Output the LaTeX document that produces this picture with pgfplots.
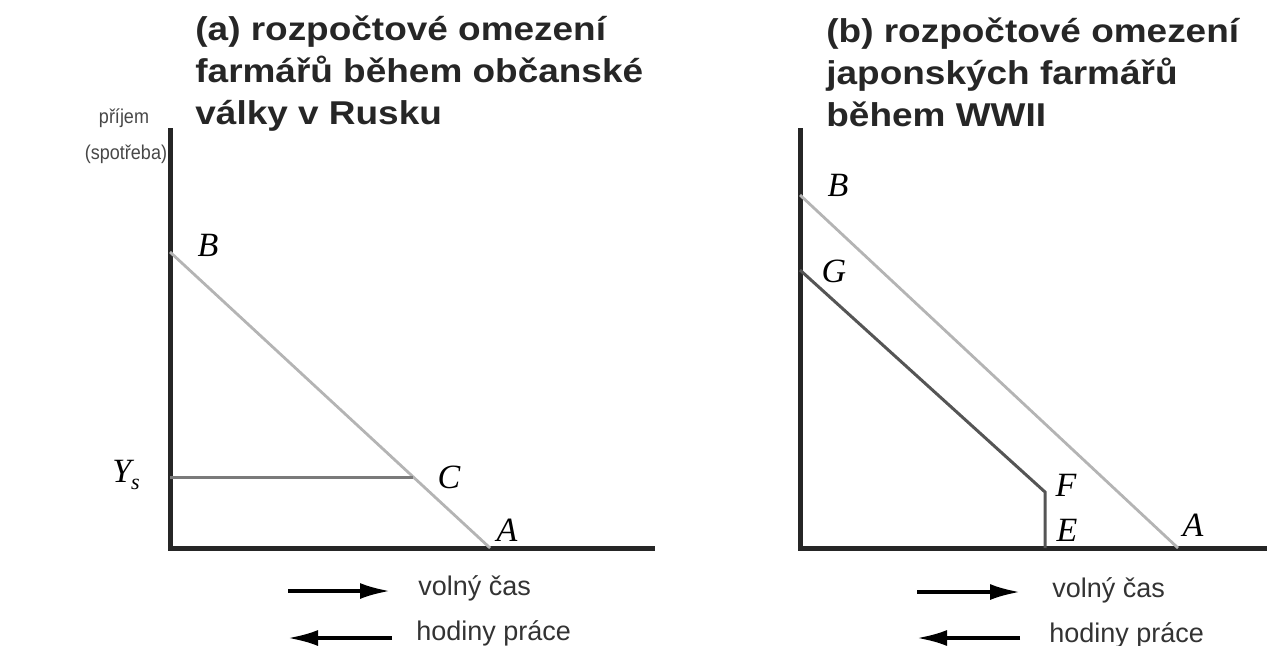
\documentclass[border=0pt]{standalone}
\usepackage{fontspec}
\usepackage{pgfplots}
\pgfplotsset{compat=1.18}
\usetikzlibrary{arrows.meta}
\setmainfont{Liberation Sans}
\newfontfamily\titlefont[FakeStretch=1.12]{Liberation Sans}
\newfontfamily\narrowfont[FakeStretch=0.9]{Liberation Sans}
\newfontfamily\lblfont{Liberation Serif}
\definecolor{axisc}{HTML}{262626}
\definecolor{lightl}{HTML}{B4B4B4}
\definecolor{midl}{HTML}{7A7A7A}
\definecolor{darkl}{HTML}{555555}
\definecolor{textc}{HTML}{333333}
\begin{document}
\begin{tikzpicture}[x=0.5pt,y=0.5pt]
\useasboundingbox (0,0) rectangle (1267,645);
\pgfplotsset{panel/.style={
  scale only axis, axis lines=none, clip=false, anchor=south west,
  xmin=0, ymin=0, ymax=42, height=210pt}}
\tikzset{lbl/.style={inner sep=0pt, font=\lblfont\itshape\fontsize{17}{17}\selectfont},
  ttl/.style={anchor=base west, inner sep=0pt, align=left, text=black!85,
  font=\titlefont\bfseries\fontsize{16.5}{21}\selectfont},
  leg/.style={anchor=west, inner sep=0pt, text=textc, font=\fontsize{13.5}{14}\selectfont},
  arr/.style={line width=1.7pt, -{Latex[length=15pt,width=8pt]}}}

% panel (a)
\begin{axis}[panel, at={(85pt,48.5pt)}, width=242.5pt, xmax=48.5]
  \draw[axisc, line width=2.5pt] (axis cs:0,42) -- (axis cs:0,0) -- (axis cs:48.5,0);
  \addplot[lightl, line width=1.4pt] coordinates {(0,29.6) (32,0)};
  \addplot[midl, line width=1.5pt] coordinates {(0,7.1) (24.3,7.1)};
\end{axis}

% panel (b)
\begin{axis}[panel, at={(400pt,48.5pt)}, width=233.5pt, xmax=46.7]
  \draw[axisc, line width=2.5pt] (axis cs:0,42) -- (axis cs:0,0) -- (axis cs:46.7,0);
  \addplot[lightl, line width=1.4pt] coordinates {(0,35.3) (37.8,0)};
  \addplot[darkl, line width=1.5pt] coordinates {(0,27.8) (24.5,5.6) (24.5,0)};
\end{axis}

% titles (anchored at the baseline of the last line)
\node[ttl] at (195,521) {(a) rozpočtové omezení\\farmářů během občanské\\války v Rusku};
\node[ttl] at (826,519) {(b) rozpočtové omezení\\japonských farmářů\\během WWII};

% vertical axis label
\node[inner sep=0pt, text=black!72, font=\narrowfont\fontsize{10}{10}\selectfont] at (124,527) {příjem};
\node[inner sep=0pt, text=black!72, font=\narrowfont\fontsize{10}{10}\selectfont] at (126,491) {(spotřeba)};

% point labels
\node[lbl] at (208,400) {B};
\node[lbl] at (449,168) {C};
\node[lbl] at (507,115) {A};
\node[lbl] at (126,170) {Y\raisebox{-0.45ex}{\fontsize{11}{11}\selectfont s}};
\node[lbl] at (838,460) {B};
\node[lbl] at (834,374) {G};
\node[lbl] at (1066,160) {F};
\node[lbl] at (1067,115) {E};
\node[lbl] at (1193,120) {A};

% direction arrows
\draw[arr] (288,54) -- (390,54);
\draw[arr] (392,7) -- (288,7);
\node[leg] at (418,57) {volný čas};
\node[leg] at (416,12) {hodiny práce};
\draw[arr] (917,53) -- (1020,53);
\draw[arr] (1020,7) -- (917,7);
\node[leg] at (1052,55) {volný čas};
\node[leg] at (1049,10) {hodiny práce};
\end{tikzpicture}
\end{document}
